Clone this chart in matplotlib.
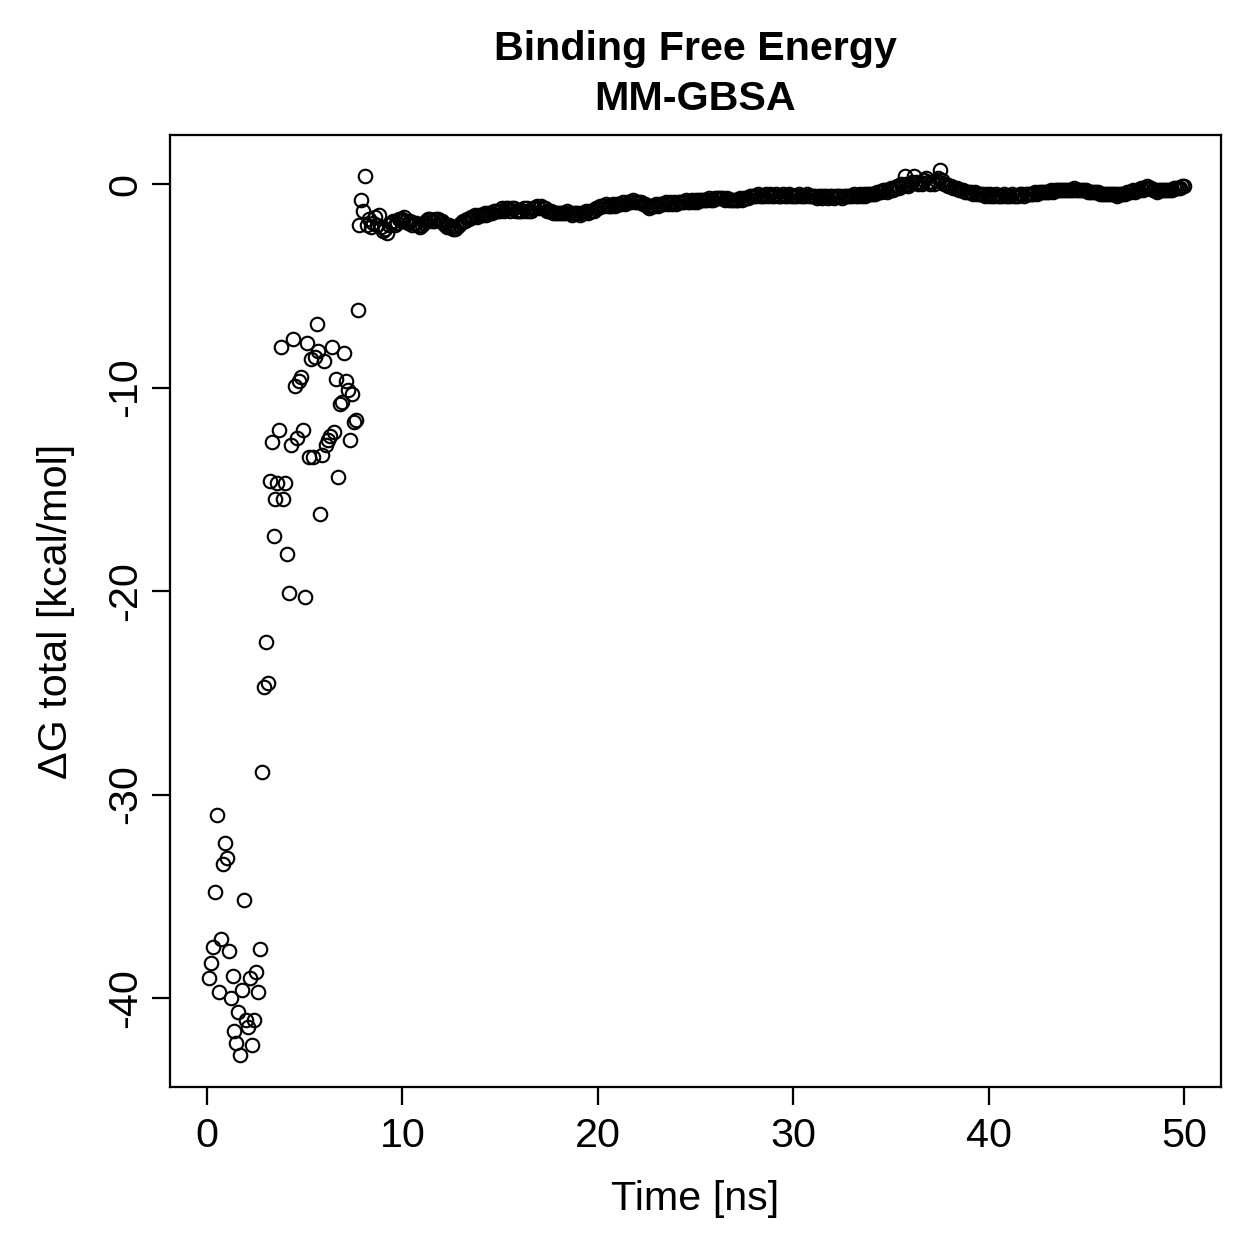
import numpy as np
import matplotlib
matplotlib.use("Agg")
import matplotlib.pyplot as plt

plt.rcParams['font.family'] = ['Liberation Sans', 'DejaVu Sans']
plt.rcParams['axes.unicode_minus'] = False

# ---- data (Delta G total, kcal/mol), one frame every 0.1 ns from 0.1 to 50.0 ns ----
dg_0_to_3 = [-39.0, -38.3, -37.5, -34.8, -31.0, -39.7, -37.1, -33.4, -32.4, -33.1,
             -37.7, -40.0, -38.9, -41.6, -42.2, -40.7, -42.8, -39.6, -35.2, -41.1,
             -41.4, -39.0, -42.3, -41.1, -38.7, -39.7, -37.6,
             -28.9, -24.7, -22.5, -24.5]
dg_3_to_8 = [-14.6, -12.7, -17.3, -15.5, -14.7, -12.1, -8.0, -15.5, -14.7, -18.2,
             -20.1, -12.8, -7.6, -9.9, -12.5, -9.7, -9.5, -12.1, -20.3, -7.8,
             -13.4, -8.6, -13.4, -8.5, -6.9, -8.2, -16.2, -13.3, -8.7, -12.8,
             -12.6, -12.4, -8.0, -12.2, -9.6, -14.4, -10.8, -10.7, -8.3, -9.7,
             -10.1, -12.6, -10.3, -11.7, -11.6, -6.2,
             -2.0, -0.8, -1.3, 0.4]
dg_8_to_20 = [-2.0, -1.7, -2.1, -1.9, -1.6, -2.0, -1.5, -2.1,
              -2.3, -2.2, -2.4, -2.0, -1.9, -1.8, -2.0, -1.9, -1.7, -1.8,
              -1.7, -1.6, -1.8, -1.9, -1.8, -2.0, -1.9, -1.9, -2.0, -2.1,
              -2.0, -1.9, -1.8, -1.7, -1.7, -1.8, -1.8, -1.7, -1.7, -1.8,
              -1.8, -1.9, -2.0, -2.1, -2.0, -2.1, -2.2, -2.2, -2.1, -2.0,
              -1.9, -1.8, -1.8, -1.7, -1.7, -1.6, -1.6, -1.5, -1.6, -1.5,
              -1.5, -1.5, -1.4, -1.5, -1.4, -1.4, -1.4, -1.3, -1.3, -1.3,
              -1.3, -1.2, -1.3, -1.2, -1.2, -1.3, -1.2, -1.2, -1.3, -1.3,
              -1.3, -1.3, -1.2, -1.3, -1.2, -1.3, -1.3, -1.2, -1.2, -1.1,
              -1.2, -1.1, -1.2, -1.2, -1.3, -1.3, -1.3, -1.4, -1.4, -1.4,
              -1.4, -1.4, -1.4, -1.4, -1.3, -1.4, -1.4, -1.5, -1.4, -1.4,
              -1.4, -1.5, -1.4, -1.4, -1.3, -1.4, -1.3, -1.3, -1.3, -1.2]
dg_20_to_35 = [-1.2, -1.1, -1.1, -1.1, -1.0, -1.1, -1.1, -1.1, -1.0, -1.1,
               -1.0, -1.0, -1.0, -0.9, -1.0, -0.9, -0.9, -0.9, -0.8, -0.9,
               -0.9, -0.9, -0.9, -1.0, -1.0, -1.1, -1.2, -1.1, -1.1, -1.1,
               -1.0, -1.1, -1.0, -1.0, -1.0, -0.9, -1.0, -0.9, -1.0, -0.9,
               -1.0, -0.9, -0.9, -0.9, -0.9, -0.8, -0.9, -0.9, -0.8, -0.9,
               -0.8, -0.9, -0.8, -0.8, -0.8, -0.8, -0.8, -0.7, -0.8, -0.8,
               -0.7, -0.7, -0.7, -0.7, -0.7, -0.8, -0.7, -0.8, -0.8, -0.8,
               -0.8, -0.8, -0.8, -0.7, -0.8, -0.7, -0.7, -0.7, -0.6, -0.6,
               -0.6, -0.6, -0.5, -0.6, -0.6, -0.6, -0.5, -0.6, -0.5, -0.6,
               -0.6, -0.5, -0.6, -0.6, -0.6, -0.5, -0.6, -0.6, -0.5, -0.6,
               -0.6, -0.6, -0.6, -0.5, -0.6, -0.6, -0.6, -0.5, -0.6, -0.6,
               -0.6, -0.6, -0.7, -0.6, -0.6, -0.7, -0.6, -0.6, -0.7, -0.6,
               -0.6, -0.7, -0.6, -0.6, -0.6, -0.7, -0.6, -0.6, -0.6, -0.6,
               -0.6, -0.5, -0.6, -0.6, -0.5, -0.6, -0.5, -0.6, -0.5, -0.5,
               -0.5, -0.5, -0.5, -0.4, -0.4, -0.4, -0.3, -0.3, -0.4, -0.3]
dg_35_to_50 = [-0.2, -0.3, -0.2, -0.1, -0.2, 0.0, -0.1, 0.4, 0.0, -0.1,
               0.0, 0.1, 0.4, 0.1, 0.0, 0.1, 0.0, 0.2, 0.3, 0.1,
               0.0, 0.1, 0.0, 0.2, 0.3, 0.7, 0.2, 0.0, 0.0, -0.1,
               -0.1, -0.1, -0.2, -0.2, -0.2, -0.3, -0.3, -0.3, -0.4, -0.4,
               -0.4, -0.4, -0.5, -0.4, -0.5, -0.5, -0.5, -0.5, -0.6, -0.5,
               -0.6, -0.5, -0.6, -0.6, -0.5, -0.6, -0.6, -0.6, -0.5, -0.6,
               -0.6, -0.6, -0.5, -0.6, -0.6, -0.6, -0.5, -0.5, -0.6, -0.5,
               -0.5, -0.5, -0.5, -0.5, -0.4, -0.5, -0.4, -0.4, -0.4, -0.4,
               -0.4, -0.4, -0.3, -0.4, -0.3, -0.3, -0.3, -0.3, -0.3, -0.3,
               -0.3, -0.3, -0.3, -0.3, -0.2, -0.3, -0.3, -0.3, -0.3, -0.3,
               -0.3, -0.4, -0.4, -0.4, -0.4, -0.4, -0.4, -0.5, -0.5, -0.5,
               -0.5, -0.5, -0.5, -0.5, -0.5, -0.5, -0.6, -0.5, -0.5, -0.5,
               -0.5, -0.4, -0.4, -0.4, -0.3, -0.4, -0.3, -0.3, -0.2, -0.3,
               -0.2, -0.1, -0.2, -0.2, -0.3, -0.3, -0.4, -0.3, -0.3, -0.3,
               -0.3, -0.3, -0.3, -0.3, -0.3, -0.2, -0.2, -0.2, -0.2, -0.1,
               -0.1]

dg = np.array(dg_0_to_3 + dg_3_to_8 + dg_8_to_20 + dg_20_to_35 + dg_35_to_50)
time_step_ns = 0.1
time_ns = np.arange(1, len(dg) + 1) * time_step_ns

x_ticks = [0, 10, 20, 30, 40, 50]
y_ticks = [-40, -30, -20, -10, 0]
title_lines = ["Binding Free Energy", "MM-GBSA"]
x_label = "Time [ns]"
y_label = "\u0394G total [kcal/mol]"

# ---- figure ----
W = H = 1259
FS = 16.5
fig = plt.figure(figsize=(W / 180, H / 180), dpi=180)
ax = fig.add_axes([170 / W, 1 - 1087 / H, (1221 - 170) / W, (1087 - 135) / H])

ax.plot(time_ns, dg, linestyle='none', marker='o', markersize=5.4,
        markerfacecolor='none', markeredgecolor='black', markeredgewidth=0.85)

ax.set_xlim(-1.9, 51.9)
ax.set_ylim(-44.37, 2.41)
ax.set_xticks(x_ticks)
ax.set_yticks(y_ticks)
ax.set_xticklabels([str(v) for v in x_ticks])
ax.set_yticklabels([str(v) for v in y_ticks], rotation=90, va='center')

for s in ax.spines.values():
    s.set_linewidth(0.9)
    s.set_color('black')
ax.tick_params(axis='both', direction='out', length=7.2, width=0.9,
               labelsize=FS, colors='black')
ax.tick_params(axis='x', pad=4.8)
ax.tick_params(axis='y', pad=3.2)

ax.set_xlabel(x_label, fontsize=FS)
ax.set_ylabel(y_label, fontsize=FS)
ax.xaxis.set_label_coords(0.5, -0.098)
ax.yaxis.set_label_coords(-0.090, 0.5)

cx = (170 + 1221) / 2 / W
fig.text(cx, 1 - 60 / H, title_lines[0], ha='center', va='baseline',
         fontsize=FS, fontweight='bold')
fig.text(cx, 1 - 110 / H, title_lines[1], ha='center', va='baseline',
         fontsize=FS, fontweight='bold')

fig.savefig("out.png", dpi=180, facecolor='white')
